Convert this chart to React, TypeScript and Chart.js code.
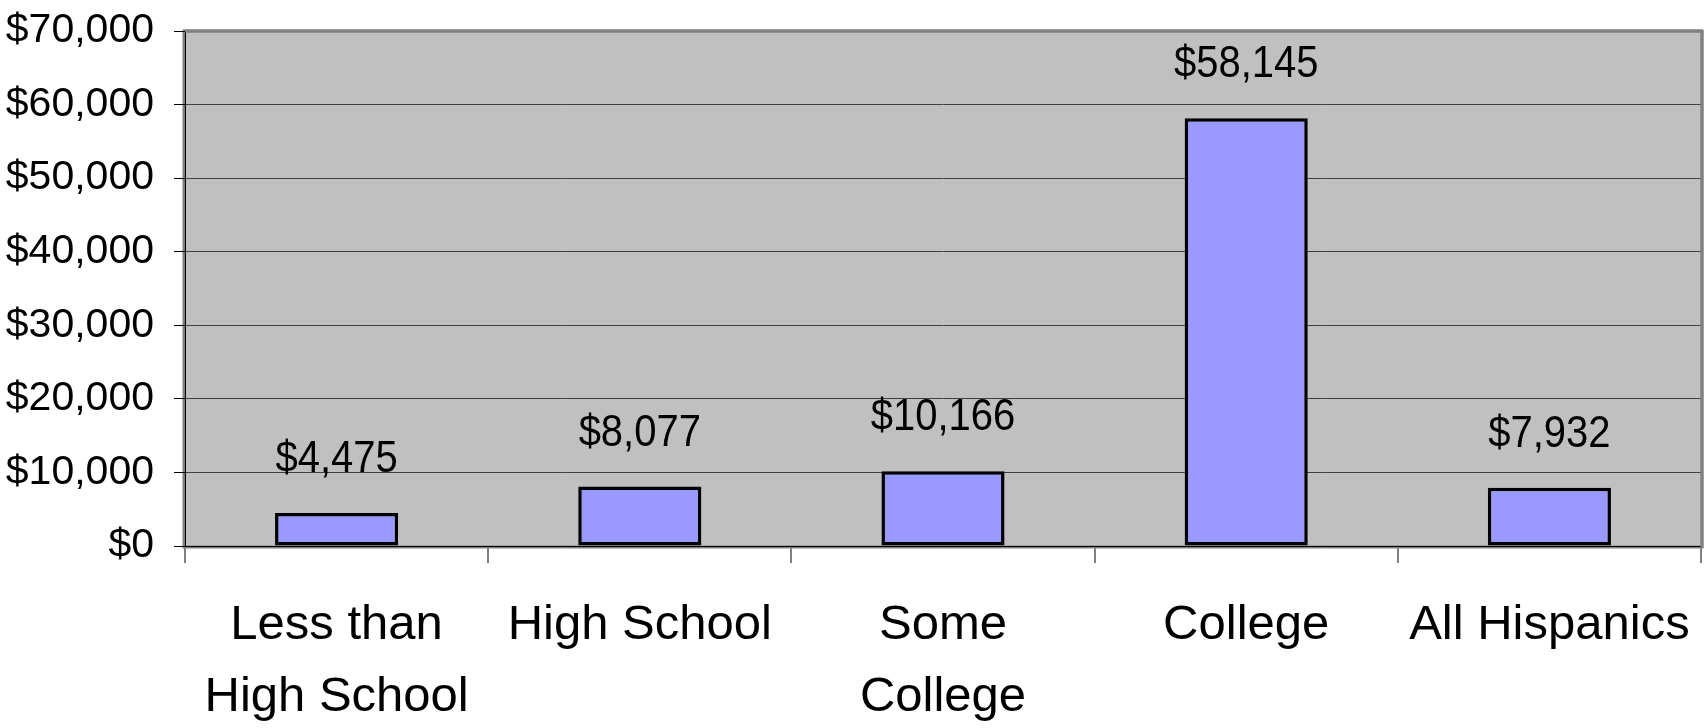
import React, { useEffect, useRef } from "react";
import { Chart, registerables } from "chart.js";

Chart.register(...registerables);

const categories: (string | string[])[] = [
  ["Less than", "High School"],
  ["High School"],
  ["Some", "College"],
  ["College"],
  ["All Hispanics"],
];
const incomeValues: number[] = [4475, 8077, 10166, 58145, 7932];
const yTickMin = 0;
const yTickMax = 70000;
const yTickStep = 10000;

const FONT = "'Liberation Sans', Arial, Helvetica, sans-serif";
const fmt = (v: number) => "$" + Math.round(v).toLocaleString("en-US");

export default function App() {
  const ref = useRef<HTMLCanvasElement | null>(null);

  useEffect(() => {
    if (!ref.current) return;

    const bgPlugin = {
      id: "plotBg",
      beforeDraw(chart: any) {
        const { ctx, chartArea: a } = chart;
        ctx.save();
        ctx.fillStyle = "#C0C0C0";
        ctx.fillRect(a.left, a.top, a.right - a.left, a.bottom - a.top);
        ctx.strokeStyle = "#808080";
        ctx.lineWidth = 3;
        ctx.strokeRect(a.left - 1, a.top, a.right - a.left + 2, a.bottom - a.top + 1);
        ctx.restore();
      },
      beforeDatasetsDraw(chart: any) {
        const { ctx, chartArea: a } = chart;
        ctx.save();
        ctx.strokeStyle = "#808080";
        ctx.lineWidth = 3;
        ctx.beginPath();
        ctx.moveTo(a.left, a.top);
        ctx.lineTo(a.right + 1, a.top);
        ctx.moveTo(a.right + 1, a.top - 1);
        ctx.lineTo(a.right + 1, a.bottom + 2);
        ctx.stroke();
        ctx.restore();
      },
    };

    const labelPlugin = {
      id: "valueLabels",
      afterDatasetsDraw(chart: any) {
        const { ctx } = chart;
        const meta = chart.getDatasetMeta(0);
        ctx.save();
        ctx.fillStyle = "#000";
        ctx.font = `40px ${FONT}`;
        ctx.textAlign = "center";
        ctx.textBaseline = "alphabetic";
        meta.data.forEach((bar: any, i: number) => {
          ctx.save();
          ctx.translate(bar.x, bar.y - 41);
          ctx.scale(1, 1.1);
          ctx.fillText(fmt(incomeValues[i]), 0, 0);
          ctx.restore();
        });
        ctx.restore();
      },
    };

    const chart = new Chart(ref.current, {
      type: "bar",
      data: {
        labels: categories,
        datasets: [
          {
            data: incomeValues,
            backgroundColor: "#9999FF",
            borderColor: "#000000",
            borderWidth: 3.5,
            borderSkipped: false,
            barPercentage: 0.406,
            categoryPercentage: 1,
          },
        ],
      },
      options: {
        animation: false,
        responsive: false,
        events: [],
        layout: { padding: { top: 31, right: 6, left: 0, bottom: 0 } },
        plugins: {
          legend: { display: false },
          tooltip: { enabled: false },
          title: { display: false },
        },
        scales: {
          x: {
            afterFit(scale: any) {
              scale.height = 182;
              scale.paddingLeft = 0;
              scale.paddingRight = 0;
            },
            grid: {
              display: true,
              drawOnChartArea: false,
              drawTicks: true,
              tickLength: 17,
              color: "#808080",
              tickColor: "#808080",
              lineWidth: 2,
              offset: true,
            },
            border: { display: true, color: "#000000", width: 1 },
            ticks: {
              color: "#000",
              padding: 26,
              maxRotation: 0,
              autoSkip: false,
              font: { family: FONT, size: 49, lineHeight: 72 / 49 },
            },
          },
          y: {
            min: yTickMin,
            max: yTickMax,
            afterFit(scale: any) {
              scale.width = 185;
              scale.paddingTop = 0;
              scale.paddingBottom = 0;
            },
            grid: {
              color: "#404040",
              tickColor: "#000000",
              lineWidth: 1,
              tickLength: 11,
            },
            border: { display: true, color: "#000000", width: 1 },
            ticks: {
              stepSize: yTickStep,
              color: "#000",
              padding: 20,
              font: { family: FONT, size: 41 },
              callback: (v: any) => fmt(Number(v)),
            },
          },
        },
      },
      plugins: [bgPlugin, labelPlugin],
    });

    return () => chart.destroy();
  }, []);

  return (
    <div style={{ position: "absolute", left: 0, top: 0, width: 1707, height: 728, background: "#fff" }}>
      <canvas ref={ref} width={1707} height={728} style={{ display: "block" }} />
    </div>
  );
}
